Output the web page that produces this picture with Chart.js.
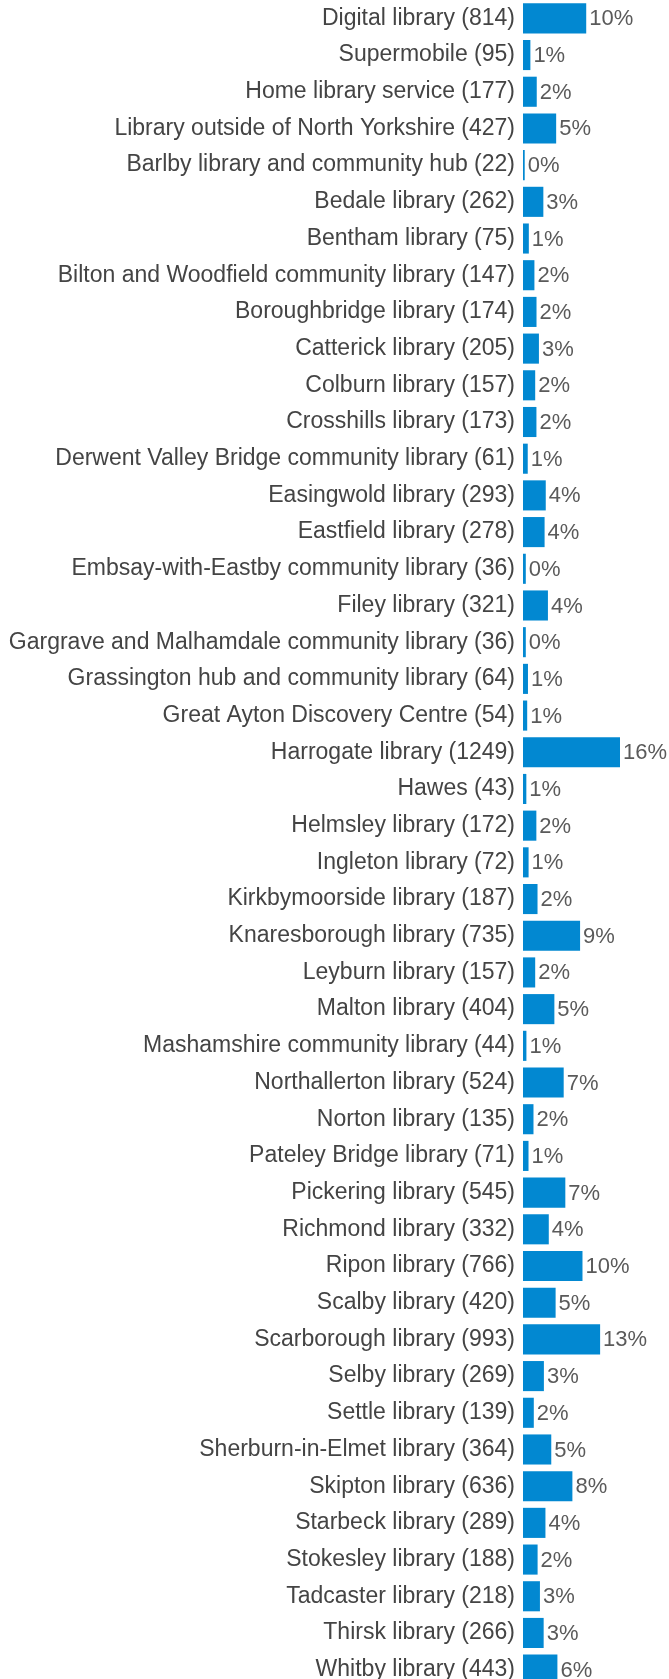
<!DOCTYPE html>
<html>
<head>
<meta charset="utf-8">
<script src="https://cdn.jsdelivr.net/npm/chart.js@4/dist/chart.umd.min.js"></script>
<style>
  html, body { margin: 0; padding: 0; background: #fff; overflow: hidden; }
  #wrap { width: 669px; height: 1679px; overflow: hidden; }
</style>
</head>
<body>
<div id="wrap">
  <canvas id="bar-chart" width="669" height="1688"></canvas>
</div>
<script>
// Library names, response counts and the percentage labels
const libraries = [
  'Digital library', 'Supermobile', 'Home library service', 'Library outside of North Yorkshire',
  'Barlby library and community hub', 'Bedale library', 'Bentham library',
  'Bilton and Woodfield community library', 'Boroughbridge library', 'Catterick library',
  'Colburn library', 'Crosshills library', 'Derwent Valley Bridge community library',
  'Easingwold library', 'Eastfield library', 'Embsay-with-Eastby community library',
  'Filey library', 'Gargrave and Malhamdale community library',
  'Grassington hub and community library', 'Great Ayton Discovery Centre',
  'Harrogate library', 'Hawes', 'Helmsley library', 'Ingleton library',
  'Kirkbymoorside library', 'Knaresborough library', 'Leyburn library', 'Malton library',
  'Mashamshire community library', 'Northallerton library', 'Norton library',
  'Pateley Bridge library', 'Pickering library', 'Richmond library', 'Ripon library',
  'Scalby library', 'Scarborough library', 'Selby library', 'Settle library',
  'Sherburn-in-Elmet library', 'Skipton library', 'Starbeck library', 'Stokesley library',
  'Tadcaster library', 'Thirsk library', 'Whitby library'
];

const counts = [
  814, 95, 177, 427, 22, 262, 75, 147, 174, 205, 157, 173, 61, 293, 278, 36, 321, 36,
  64, 54, 1249, 43, 172, 72, 187, 735, 157, 404, 44, 524, 135, 71, 545, 332, 766, 420,
  993, 269, 139, 364, 636, 289, 188, 218, 266, 443
];

const percents = [
  10, 1, 2, 5, 0, 3, 1, 2, 2, 3, 2, 2, 1, 4, 4, 0, 4, 0, 1, 1, 16, 1, 2, 1, 2, 9, 2, 5,
  1, 7, 2, 1, 7, 4, 10, 5, 13, 3, 2, 5, 8, 4, 2, 3, 3, 6
];

const labels = libraries.map((name, i) => `${name} (${counts[i]})`);

// draws the percentage next to the end of each bar
const percentLabels = {
  id: 'percentLabels',
  afterDatasetsDraw(chart) {
    const ctx = chart.ctx;
    const meta = chart.getDatasetMeta(0);
    ctx.save();
    ctx.font = '22px "Liberation Sans", Arial, sans-serif';
    ctx.fillStyle = '#5a5a5a';
    ctx.textAlign = 'left';
    ctx.textBaseline = 'middle';
    meta.data.forEach((bar, i) => {
      ctx.fillText(percents[i] + '%', bar.x + 3, bar.y + 1);
    });
    ctx.restore();
  }
};

const ctx = document.getElementById('bar-chart');
new Chart(ctx, {
  type: 'bar',
  data: {
    labels: labels,
    datasets: [{
      data: counts,
      backgroundColor: '#0288d1',
      borderWidth: 0,
      barPercentage: 0.82,
      categoryPercentage: 1.0
    }]
  },
  options: {
    indexAxis: 'y',
    responsive: false,
    animation: false,
    devicePixelRatio: 1,
    layout: { padding: 0 },
    plugins: {
      legend: { display: false },
      tooltip: { enabled: false },
      title: { display: false }
    },
    scales: {
      x: {
        display: false,
        min: 0,
        max: 1880
      },
      y: {
        afterFit(scale) {
          scale.width = 523; // bars start at x=523
          scale.paddingTop = 0;
          scale.paddingBottom = 0;
        },
        grid: { display: false, drawTicks: false },
        border: { display: false },
        ticks: {
          padding: 8,
          autoSkip: false,
          color: '#444444',
          font: { family: '"Liberation Sans", Arial, sans-serif', size: 23 }
        }
      }
    }
  },
  plugins: [percentLabels]
});
</script>
</body>
</html>
